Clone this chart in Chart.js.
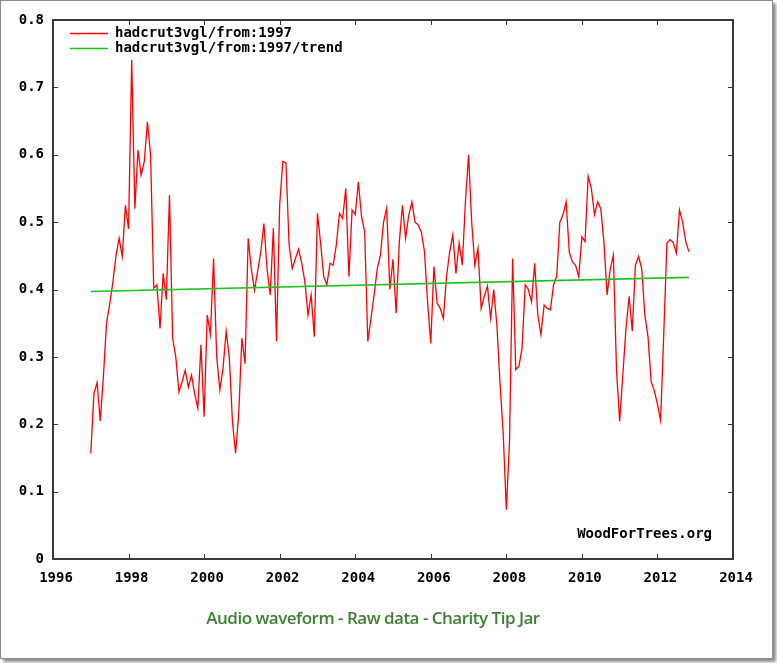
<!DOCTYPE html>
<html>
<head>
<meta charset="utf-8">
<script src="https://cdn.jsdelivr.net/npm/chart.js@4.4.0/dist/chart.umd.min.js"></script>
<style>
  body { margin: 0; background: #fff; }
  #frame {
    position: absolute; left: 0; top: 0;
    width: 773px; height: 659px; box-sizing: border-box;
    border: 1px solid #8c8c8c;
    box-shadow: 3px 3px 3px rgba(0, 0, 0, 0.45);
    background: #fff;
  }
  #wrap { position: absolute; left: 0; top: 0; width: 777px; height: 663px; }
  #caption {
    position: absolute; left: 0; width: 746px; top: 606px;
    text-align: center;
    font-family: "Open Sans", sans-serif;
    font-size: 17px; font-weight: 600; letter-spacing: -0.5px; color: #3d8033;
  }
</style>
</head>
<body>
<div id="frame"></div>
<div id="wrap"><canvas id="chart" width="777" height="663"></canvas></div>
<div id="caption">Audio waveform - Raw data - Charity Tip Jar</div>
<script>
document.addEventListener("DOMContentLoaded", function () {
  // monthly anomalies, hadcrut3vgl from Jan 1997
  const y1997 = [0.157, 0.245, 0.262, 0.205, 0.27, 0.35, 0.378, 0.41, 0.45, 0.476, 0.449, 0.525];
  const y1998 = [0.49, 0.741, 0.52, 0.607, 0.57, 0.59, 0.649, 0.60, 0.402, 0.407, 0.342, 0.424];
  const y1999 = [0.385, 0.54, 0.328, 0.30, 0.248, 0.263, 0.28, 0.255, 0.273, 0.245, 0.224, 0.318];
  const y2000 = [0.211, 0.362, 0.333, 0.446, 0.30, 0.251, 0.283, 0.338, 0.30, 0.204, 0.157, 0.216];
  const y2001 = [0.328, 0.29, 0.476, 0.43, 0.399, 0.427, 0.456, 0.498, 0.43, 0.392, 0.491, 0.323];
  const y2002 = [0.525, 0.59, 0.588, 0.466, 0.431, 0.446, 0.46, 0.439, 0.412, 0.362, 0.392, 0.33];
  const y2003 = [0.513, 0.469, 0.419, 0.407, 0.439, 0.436, 0.466, 0.513, 0.505, 0.55, 0.419, 0.518];
  const y2004 = [0.511, 0.56, 0.508, 0.486, 0.323, 0.357, 0.392, 0.431, 0.451, 0.50, 0.521, 0.40];
  const y2005 = [0.445, 0.365, 0.47, 0.525, 0.476, 0.51, 0.53, 0.50, 0.496, 0.485, 0.456, 0.38];
  const y2006 = [0.32, 0.434, 0.38, 0.372, 0.357, 0.419, 0.456, 0.481, 0.424, 0.469, 0.436, 0.53];
  const y2007 = [0.60, 0.50, 0.436, 0.461, 0.372, 0.39, 0.405, 0.357, 0.40, 0.347, 0.26, 0.187];
  const y2008 = [0.073, 0.174, 0.446, 0.281, 0.286, 0.313, 0.407, 0.40, 0.382, 0.439, 0.362, 0.333];
  const y2009 = [0.377, 0.372, 0.37, 0.407, 0.42, 0.50, 0.511, 0.53, 0.455, 0.441, 0.436, 0.419];
  const y2010 = [0.478, 0.471, 0.568, 0.55, 0.511, 0.53, 0.52, 0.47, 0.392, 0.43, 0.451, 0.28];
  const y2011 = [0.204, 0.273, 0.342, 0.39, 0.338, 0.436, 0.449, 0.431, 0.362, 0.33, 0.263, 0.25];
  const y2012 = [0.23, 0.206, 0.333, 0.469, 0.474, 0.47, 0.454, 0.518, 0.50, 0.471, 0.456];

  const startYear = 1997;
  const trendX = [1997.0, 2012.833];
  const trendY = [0.397, 0.418];

  const xTicks = [1996, 1998, 2000, 2002, 2004, 2006, 2008, 2010, 2012, 2014];
  const yTicks = [0, 0.1, 0.2, 0.3, 0.4, 0.5, 0.6, 0.7, 0.8];

  const seriesName = "hadcrut3vgl/from:1997";
  const trendName = "hadcrut3vgl/from:1997/trend";
  const credit = "WoodForTrees.org";

  const monthly = [].concat(y1997, y1998, y1999, y2000, y2001, y2002, y2003,
    y2004, y2005, y2006, y2007, y2008, y2009, y2010, y2011, y2012);
  const seriesPts = monthly.map((v, i) => ({ x: startYear + i / 12, y: v }));
  const trendPts = trendX.map((x, i) => ({ x: x, y: trendY[i] }));

  const RED = "#ff0000";
  const GREEN = "#1ec01e";
  const FONT = "bold 14px 'DejaVu Sans Mono', monospace";

  // gnuplot style frame, inward ticks, key and credit
  const gnuplotDecor = {
    id: "gnuplotDecor",
    afterDatasetsDraw(chart) {
      const ctx = chart.ctx;
      const a = chart.chartArea;
      const xs = chart.scales.x;
      const ys = chart.scales.y;
      ctx.save();
      ctx.strokeStyle = "#333";
      ctx.lineWidth = 1;
      xTicks.forEach((t) => {
        const px = Math.round(xs.getPixelForValue(t)) + 0.5;
        ctx.beginPath();
        ctx.moveTo(px, a.bottom); ctx.lineTo(px, a.bottom - 5);
        ctx.moveTo(px, a.top); ctx.lineTo(px, a.top + 5);
        ctx.stroke();
      });
      yTicks.forEach((t) => {
        const py = Math.round(ys.getPixelForValue(t)) + 0.5;
        ctx.beginPath();
        ctx.moveTo(a.left, py); ctx.lineTo(a.left + 5, py);
        ctx.moveTo(a.right, py); ctx.lineTo(a.right - 5, py);
        ctx.stroke();
      });
      ctx.lineWidth = 2;
      ctx.strokeStyle = "#3a3a3a";
      ctx.strokeRect(a.left, a.top, a.right - a.left, a.bottom - a.top);

      // key
      ctx.font = FONT;
      ctx.fillStyle = "#000";
      ctx.textBaseline = "middle";
      ctx.textAlign = "left";
      const keys = [[seriesName, RED], [trendName, GREEN]];
      keys.forEach((k, i) => {
        const ky = a.top + 13.5 + i * 15;
        ctx.strokeStyle = k[1];
        ctx.lineWidth = 1.3;
        ctx.beginPath();
        ctx.moveTo(a.left + 17, ky); ctx.lineTo(a.left + 55, ky);
        ctx.stroke();
        ctx.fillText(k[0], a.left + 62, ky);
      });
      ctx.textAlign = "right";
      ctx.fillText(credit, a.right - 21, a.bottom - 25);
      ctx.restore();
    },
  };

  const tickFont = { family: "'DejaVu Sans Mono', monospace", size: 14, weight: "bold" };

  const ctx = document.getElementById("chart").getContext("2d");
  new Chart(ctx, {
    type: "scatter",
    data: {
      datasets: [
        {
          label: seriesName,
          data: seriesPts,
          showLine: true,
          borderColor: RED,
          borderWidth: 1.3,
          pointRadius: 0,
          tension: 0,
          order: 1,
        },
        {
          label: trendName,
          data: trendPts,
          showLine: true,
          borderColor: GREEN,
          borderWidth: 1.6,
          pointRadius: 0,
          order: 0,
        },
      ],
    },
    options: {
      responsive: false,
      animation: false,
      events: [],
      layout: { padding: { top: 20, right: 44, left: 0, bottom: 0 } },
      plugins: {
        legend: { display: false },
        tooltip: { enabled: false },
      },
      scales: {
        x: {
          type: "linear",
          min: 1996,
          max: 2014,
          afterFit: (s) => { s.height = 104; },
          afterBuildTicks: (s) => { s.ticks = xTicks.map((v) => ({ value: v })); },
          grid: { display: false, drawTicks: false, tickLength: 0 },
          border: { display: false },
          ticks: {
            font: tickFont,
            color: "#000",
            padding: 11,
            labelOffset: 3,
            maxRotation: 0,
            callback: (v) => String(v),
          },
        },
        y: {
          min: 0,
          max: 0.8,
          afterFit: (s) => { s.width = 53; },
          afterBuildTicks: (s) => { s.ticks = yTicks.map((v) => ({ value: v })); },
          grid: { display: false, drawTicks: false, tickLength: 0 },
          border: { display: false },
          ticks: {
            font: tickFont,
            color: "#000",
            padding: 9,
            callback: (v) => (v === 0 ? "0" : v.toFixed(1)),
          },
        },
      },
    },
    plugins: [gnuplotDecor],
  });
});
</script>
</body>
</html>
